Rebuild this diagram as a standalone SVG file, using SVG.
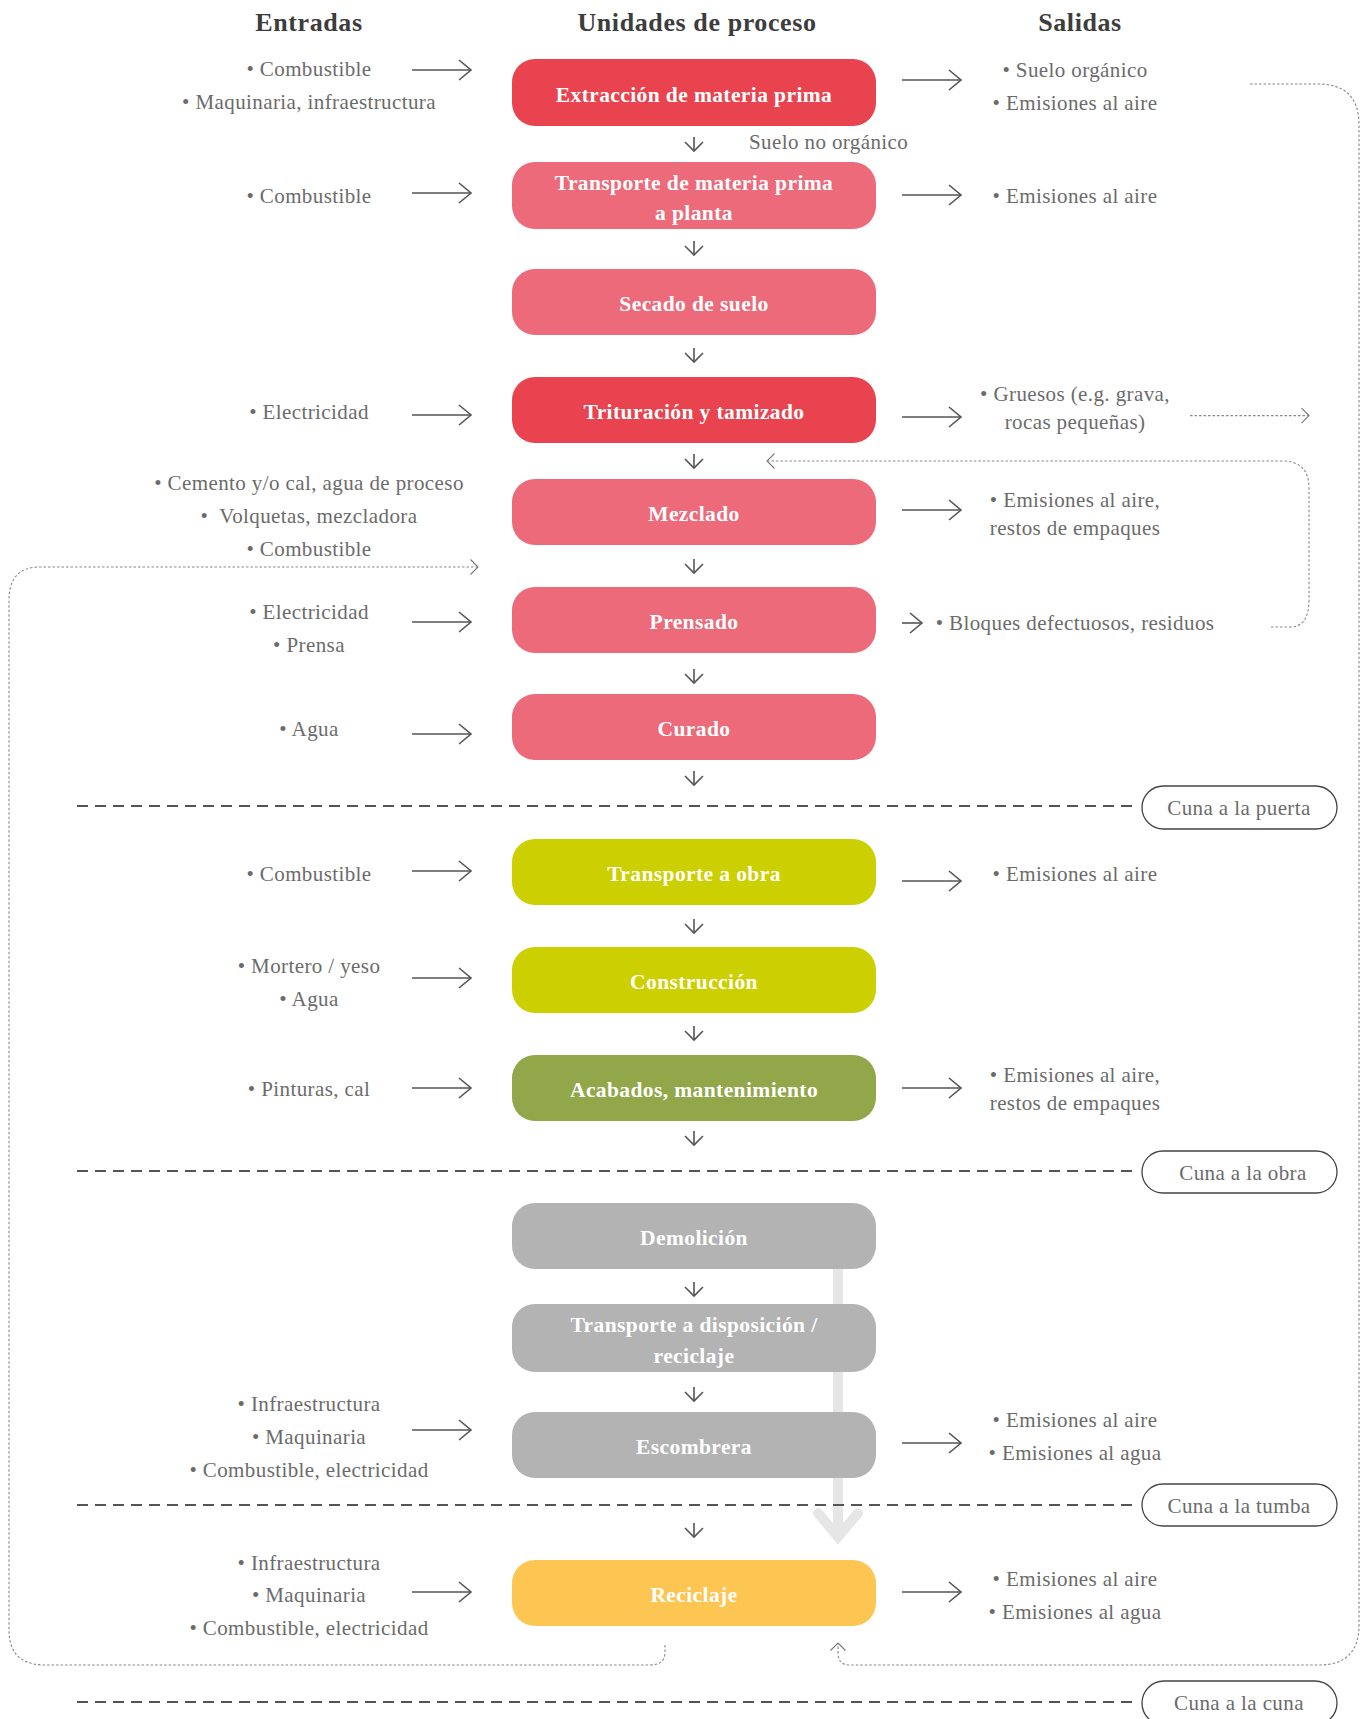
<svg xmlns="http://www.w3.org/2000/svg" width="1362" height="1719" viewBox="0 0 1362 1719">
<style>
.h{font-family:"Liberation Serif",serif;font-weight:bold;font-size:26px;letter-spacing:0.6px;fill:#3d3d3d;text-anchor:middle}
.t{font-family:"Liberation Serif",serif;font-size:21px;letter-spacing:0.4px;fill:#6b6b6b;text-anchor:middle}
.tl{font-family:"Liberation Serif",serif;font-size:21px;letter-spacing:0.4px;fill:#6b6b6b}
.b{font-family:"Liberation Serif",serif;font-weight:bold;font-size:21.5px;letter-spacing:0.4px;fill:#ffffff;text-anchor:middle}
.box{rx:23px;ry:23px}
.red{fill:#E8434F}.pink{fill:#EC6A7A}.lime{fill:#CCCF00}.olive{fill:#92A64A}.gray{fill:#B3B3B3}.yel{fill:#FDC652}
.a{stroke:#555;stroke-width:1.6;fill:none;marker-end:url(#ah)}
.d{stroke:#555;stroke-width:1.6;fill:none;marker-end:url(#ahs)}
.dot{stroke:#888;stroke-width:1.1;fill:none;stroke-dasharray:2.5 2}
.sep{stroke:#555;stroke-width:2;stroke-dasharray:11 7;fill:none}
.pill{fill:#fff;stroke:#444;stroke-width:1.3}
</style>
<defs>
<marker id="ah" markerUnits="userSpaceOnUse" markerWidth="16" markerHeight="24" refX="13" refY="11" orient="auto" overflow="visible"><path d="M1,1 L13,11 L1,21" fill="none" stroke="#555" stroke-width="1.6"/></marker>
<marker id="ahs" markerUnits="userSpaceOnUse" markerWidth="14" markerHeight="20" refX="10" refY="9" orient="auto" overflow="visible"><path d="M1,0 L10,9 L1,18" fill="none" stroke="#555" stroke-width="1.6"/></marker>
<marker id="ahd" markerUnits="userSpaceOnUse" markerWidth="12" markerHeight="18" refX="8" refY="8" orient="auto" overflow="visible"><path d="M0.5,0.5 L8,8 L0.5,15.5" fill="none" stroke="#777" stroke-width="1.1"/></marker>
</defs>
<rect width="1362" height="1719" fill="#fff"/>

<g id="headers">
<text class="h" x="309" y="31">Entradas</text>
<text class="h" x="697" y="31">Unidades de proceso</text>
<text class="h" x="1080" y="31">Salidas</text>
</g>

<g id="recycle-arrow">
<line x1="838" y1="1265" x2="838" y2="1534" stroke="#E6E6E6" stroke-width="10"/>
<polyline points="818,1513 838,1537 858,1513" fill="none" stroke="#E6E6E6" stroke-width="10" stroke-linecap="round"/>
</g>

<g id="separators">
<line class="sep" x1="77" y1="806" x2="1138" y2="806"/>
<line class="sep" x1="77" y1="1171" x2="1138" y2="1171"/>
<line class="sep" x1="77" y1="1505" x2="1138" y2="1505"/>
<line class="sep" x1="77" y1="1702" x2="1138" y2="1702"/>
</g>

<g id="connectors">
<line class="d" x1="694" y1="137" x2="694" y2="151"/>
<line class="d" x1="694" y1="241" x2="694" y2="255"/>
<line class="d" x1="694" y1="348" x2="694" y2="362"/>
<line class="d" x1="694" y1="454" x2="694" y2="468"/>
<line class="d" x1="694" y1="559" x2="694" y2="573"/>
<line class="d" x1="694" y1="669" x2="694" y2="683"/>
<line class="d" x1="694" y1="771" x2="694" y2="785"/>
<line class="d" x1="694" y1="919" x2="694" y2="933"/>
<line class="d" x1="694" y1="1026" x2="694" y2="1040"/>
<line class="d" x1="694" y1="1131" x2="694" y2="1145"/>
<line class="d" x1="694" y1="1282" x2="694" y2="1296"/>
<line class="d" x1="694" y1="1387" x2="694" y2="1401"/>
<line class="d" x1="694" y1="1523" x2="694" y2="1537"/>
<line class="a" x1="412" y1="70" x2="471" y2="70"/>
<line class="a" x1="412" y1="193" x2="471" y2="193"/>
<line class="a" x1="412" y1="415" x2="471" y2="415"/>
<line class="a" x1="412" y1="622" x2="471" y2="622"/>
<line class="a" x1="412" y1="734" x2="471" y2="734"/>
<line class="a" x1="412" y1="871" x2="471" y2="871"/>
<line class="a" x1="412" y1="978" x2="471" y2="978"/>
<line class="a" x1="412" y1="1088" x2="471" y2="1088"/>
<line class="a" x1="412" y1="1430" x2="471" y2="1430"/>
<line class="a" x1="412" y1="1592" x2="471" y2="1592"/>
<line class="a" x1="902" y1="80" x2="961" y2="80"/>
<line class="a" x1="902" y1="195" x2="961" y2="195"/>
<line class="a" x1="902" y1="417" x2="961" y2="417"/>
<line class="a" x1="902" y1="510" x2="961" y2="510"/>
<line class="a" x1="902" y1="623" x2="922" y2="623"/>
<line class="a" x1="902" y1="881" x2="961" y2="881"/>
<line class="a" x1="902" y1="1088" x2="961" y2="1088"/>
<line class="a" x1="902" y1="1443" x2="961" y2="1443"/>
<line class="a" x1="902" y1="1592" x2="961" y2="1592"/>
<path class="dot" d="M1250,84 H1318 Q1359,84 1359,125 V1625 Q1359,1665 1319,1665 H850 Q838,1665 838,1653 V1643" marker-end="url(#ahd)"/>
<path class="dot" d="M1190,415.6 H1309" marker-end="url(#ahd)"/>
<path class="dot" d="M1271,627 H1290 Q1309,627 1309,600 V488 Q1309,461 1282,461 H767" marker-end="url(#ahd)"/>
<path class="dot" d="M665,1645 V1652 Q665,1665 650,1665 H45 Q9,1665 9,1630 V600 Q9,567 40,567 H478" marker-end="url(#ahd)"/>
</g>

<g id="n-extraccion"><rect class="box red" x="512" y="59" width="364" height="67"/><text class="b" x="694" y="102">Extracción de materia prima</text></g>
<g id="n-transporte-mp"><rect class="box pink" x="512" y="162" width="364" height="67"/><text class="b" x="694" y="190">Transporte de materia prima</text><text class="b" x="694" y="220">a planta</text></g>
<g id="n-secado"><rect class="box pink" x="512" y="269" width="364" height="66"/><text class="b" x="694" y="311">Secado de suelo</text></g>
<g id="n-trituracion"><rect class="box red" x="512" y="377" width="364" height="66"/><text class="b" x="694" y="419">Trituración y tamizado</text></g>
<g id="n-mezclado"><rect class="box pink" x="512" y="479" width="364" height="66"/><text class="b" x="694" y="521">Mezclado</text></g>
<g id="n-prensado"><rect class="box pink" x="512" y="587" width="364" height="66"/><text class="b" x="694" y="629">Prensado</text></g>
<g id="n-curado"><rect class="box pink" x="512" y="694" width="364" height="66"/><text class="b" x="694" y="736">Curado</text></g>
<g id="n-transporte-obra"><rect class="box lime" x="512" y="839" width="364" height="66"/><text class="b" x="694" y="881">Transporte a obra</text></g>
<g id="n-construccion"><rect class="box lime" x="512" y="947" width="364" height="66"/><text class="b" x="694" y="989">Construcción</text></g>
<g id="n-acabados"><rect class="box olive" x="512" y="1055" width="364" height="66"/><text class="b" x="694" y="1097">Acabados, mantenimiento</text></g>
<g id="n-demolicion"><rect class="box gray" x="512" y="1203" width="364" height="66"/><text class="b" x="694" y="1245">Demolición</text></g>
<g id="n-transporte-disp"><rect class="box gray" x="512" y="1304" width="364" height="68"/><text class="b" x="694" y="1332">Transporte a disposición /</text><text class="b" x="694" y="1363">reciclaje</text></g>
<g id="n-escombrera"><rect class="box gray" x="512" y="1412" width="364" height="66"/><text class="b" x="694" y="1454">Escombrera</text></g>
<g id="n-reciclaje"><rect class="box yel" x="512" y="1560" width="364" height="66"/><text class="b" x="694" y="1602">Reciclaje</text></g>

<g id="inputs">
<text class="t" x="309" y="76">• Combustible</text>
<text class="t" x="309" y="109">• Maquinaria, infraestructura</text>
<text class="t" x="309" y="203">• Combustible</text>
<text class="t" x="309" y="419">• Electricidad</text>
<text class="t" x="309" y="490">• Cemento y/o cal, agua de proceso</text>
<text class="t" x="309" y="523">•&#160; Volquetas, mezcladora</text>
<text class="t" x="309" y="556">• Combustible</text>
<text class="t" x="309" y="619">• Electricidad</text>
<text class="t" x="309" y="652">• Prensa</text>
<text class="t" x="309" y="736">• Agua</text>
<text class="t" x="309" y="881">• Combustible</text>
<text class="t" x="309" y="973">• Mortero / yeso</text>
<text class="t" x="309" y="1006">• Agua</text>
<text class="t" x="309" y="1096">• Pinturas, cal</text>
<text class="t" x="309" y="1411">• Infraestructura</text>
<text class="t" x="309" y="1444">• Maquinaria</text>
<text class="t" x="309" y="1477">• Combustible, electricidad</text>
<text class="t" x="309" y="1570">• Infraestructura</text>
<text class="t" x="309" y="1602">• Maquinaria</text>
<text class="t" x="309" y="1635">• Combustible, electricidad</text>
</g>

<g id="outputs">
<text class="t" x="1075" y="77">• Suelo orgánico</text>
<text class="t" x="1075" y="110">• Emisiones al aire</text>
<text class="tl" x="749" y="149">Suelo no orgánico</text>
<text class="t" x="1075" y="203">• Emisiones al aire</text>
<text class="t" x="1075" y="401">• Gruesos (e.g. grava,</text>
<text class="t" x="1075" y="429">rocas pequeñas)</text>
<text class="t" x="1075" y="507">• Emisiones al aire,</text>
<text class="t" x="1075" y="535">restos de empaques</text>
<text class="t" x="1075" y="630">• Bloques defectuosos, residuos</text>
<text class="t" x="1075" y="881">• Emisiones al aire</text>
<text class="t" x="1075" y="1082">• Emisiones al aire,</text>
<text class="t" x="1075" y="1110">restos de empaques</text>
<text class="t" x="1075" y="1427">• Emisiones al aire</text>
<text class="t" x="1075" y="1460">• Emisiones al agua</text>
<text class="t" x="1075" y="1586">• Emisiones al aire</text>
<text class="t" x="1075" y="1619">• Emisiones al agua</text>
</g>

<g id="stage-labels">
<g id="p-puerta"><rect class="pill" x="1142" y="786" width="195" height="43" rx="21.5"/><text class="t" x="1239" y="815">Cuna a la puerta</text></g>
<g id="p-obra"><rect class="pill" x="1142" y="1151" width="195" height="42" rx="21"/><text class="t" x="1243" y="1180">Cuna a la obra</text></g>
<g id="p-tumba"><rect class="pill" x="1142" y="1484" width="195" height="42" rx="21"/><text class="t" x="1239" y="1513">Cuna a la tumba</text></g>
<g id="p-cuna"><rect class="pill" x="1142" y="1681" width="195" height="44" rx="22"/><text class="t" x="1239" y="1710">Cuna a la cuna</text></g>
</g>
</svg>
